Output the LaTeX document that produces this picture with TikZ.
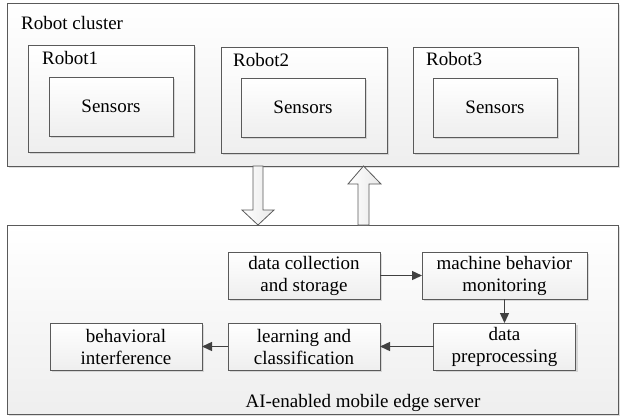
\documentclass[tikz,border=0pt]{standalone}
\usepackage{fontspec}
\setmainfont{Liberation Serif}
\usetikzlibrary{shadows,arrows.meta}
\definecolor{edge}{HTML}{5A5A5A}
\definecolor{arr}{HTML}{404040}
\tikzset{
  panel/.style={draw=edge, line width=0.9pt, top color=white, bottom color=gray!13,
    drop shadow={opacity=0.25, shadow xshift=2pt, shadow yshift=-2pt},
    inner sep=0pt, outer sep=0pt},
  boxnode/.style={panel, align=center, font=\fontsize{19}{22}\selectfont},
  lbl/.style={anchor=base west, inner sep=0pt, font=\fontsize{19}{22}\selectfont},
  flow/.style={draw=arr, line width=1.4pt, -{Triangle[length=10pt,width=9pt]}},
  blockarrow/.style={draw=edge, line width=0.8pt, left color=white, right color=gray!18, line join=miter}
}
\begin{document}
\begin{tikzpicture}[x=1pt,y=-1pt]
\useasboundingbox (0,0) rectangle (626,416);
% robot cluster
\node[panel, minimum width=611pt, minimum height=163pt] (cluster) at (312.5,84.5) {};
\node[lbl] (clusterlbl) at (21,29) {Robot cluster};
\node[panel, minimum width=166pt, minimum height=107pt] (robot1) at (111,98.5) {};
\node[panel, minimum width=166pt, minimum height=106pt] (robot2) at (304,100) {};
\node[panel, minimum width=165pt, minimum height=106pt] (robot3) at (495.5,100) {};
\node[lbl] (r1lbl) at (42,64) {Robot1};
\node[lbl] (r2lbl) at (233,66) {Robot2};
\node[lbl] (r3lbl) at (426,65) {Robot3};
\node[boxnode, minimum width=124pt, minimum height=59pt] (sens1) at (111,106.5) {Sensors};
\node[boxnode, minimum width=124pt, minimum height=59pt] (sens2) at (303,107.5) {Sensors};
\node[boxnode, minimum width=124pt, minimum height=59pt] (sens3) at (495,107.5) {Sensors};
% server
\node[panel, minimum width=611pt, minimum height=189pt] (server) at (312.5,319.5) {};
\node[anchor=base, inner sep=0pt, font=\fontsize{19}{22}\selectfont] (serverlbl) at (363,407) {AI-enabled mobile edge server};
\node[boxnode, minimum width=152pt, minimum height=47pt] (collect) at (304,275.5) {data collection\\and storage};
\node[boxnode, minimum width=165pt, minimum height=47pt] (monitor) at (504.5,275.5) {machine behavior\\monitoring};
\node[boxnode, minimum width=142pt, minimum height=47pt] (preproc) at (504.5,346.5) {data\\preprocessing};
\node[boxnode, minimum width=152pt, minimum height=47pt] (learn) at (304,346.5) {learning and\\classification};
\node[boxnode, minimum width=152pt, minimum height=47pt] (behav) at (126,346.5) {behavioral\\interference};
% flow arrows
\draw[flow] (collect.east) -- (monitor.west);
\draw[flow] (monitor.south) -- (preproc.north);
\draw[flow] (preproc.west) -- (learn.east);
\draw[flow] (learn.west) -- (behav.east);
% block arrows
\draw[blockarrow] (253,0 |- cluster.south) -- (253,210) -- (242,210) -- (258,0 |- server.north) -- (274,210) -- (263,210) -- (263,0 |- cluster.south) -- cycle;
\draw[blockarrow] (358,0 |- server.north) -- (358,184) -- (348,184) -- (363.5,0 |- cluster.south) -- (381,184) -- (369,184) -- (369,0 |- server.north) -- cycle;
\end{tikzpicture}
\end{document}
